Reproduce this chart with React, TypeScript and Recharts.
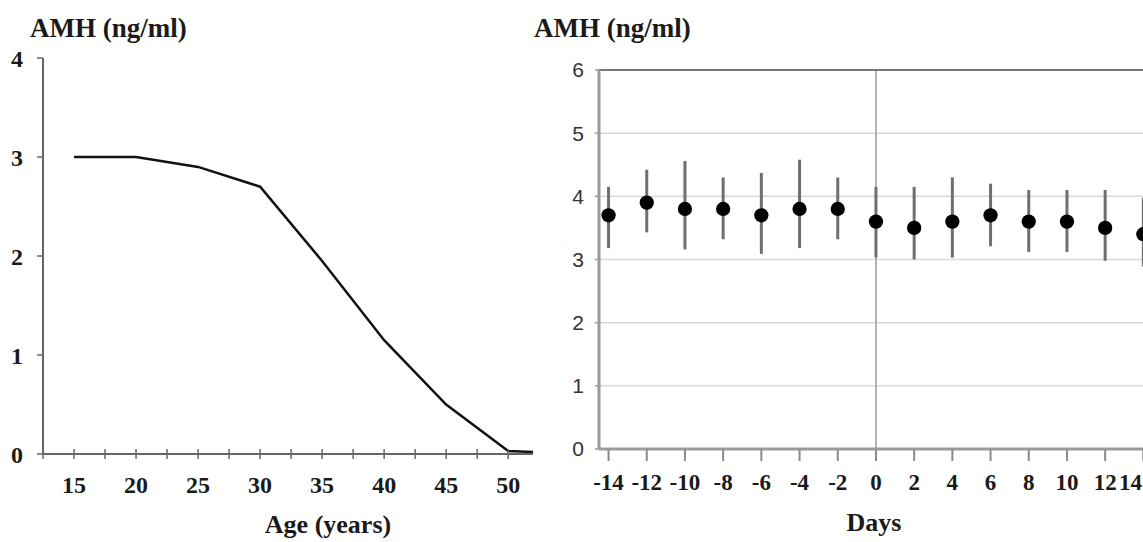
import React from 'react';
import {
  ComposedChart,
  LineChart,
  Line,
  Scatter,
  ErrorBar,
  XAxis,
  YAxis,
  ZAxis,
  CartesianGrid,
  ReferenceLine,
} from 'recharts';

// Left panel: AMH decline with age
const ages = [15, 20, 25, 30, 35, 40, 45, 50, 52];
const ageAmh = [3.0, 3.0, 2.9, 2.7, 1.95, 1.15, 0.5, 0.03, 0.02];
const ageTicks = [12.5, 15, 17.5, 20, 22.5, 25, 27.5, 30, 32.5, 35, 37.5, 40, 42.5, 45, 47.5, 50];
const ageYTicks = [0, 1, 2, 3, 4];

// Right panel: AMH across the cycle (mean with range)
const days = [-14, -12, -10, -8, -6, -4, -2, 0, 2, 4, 6, 8, 10, 12, 14];
const dayMean = [3.7, 3.9, 3.8, 3.8, 3.7, 3.8, 3.8, 3.6, 3.5, 3.6, 3.7, 3.6, 3.6, 3.5, 3.4];
const dayUpper = [4.15, 4.42, 4.56, 4.3, 4.37, 4.58, 4.3, 4.15, 4.15, 4.3, 4.2, 4.1, 4.1, 4.1, 3.98];
const dayLower = [3.18, 3.43, 3.16, 3.32, 3.09, 3.18, 3.32, 3.03, 3.0, 3.03, 3.21, 3.12, 3.12, 2.98, 2.89];
const dayYTicks = [0, 1, 2, 3, 4, 5, 6];

const ageData = ages.map((age, i) => ({ age, amh: ageAmh[i] }));
const dayData = days.map((day, i) => ({
  day,
  mean: dayMean[i],
  err: [dayMean[i] - dayLower[i], dayUpper[i] - dayMean[i]],
}));

const SERIF = '"Liberation Serif", "DejaVu Serif", serif';
const SANS = '"Liberation Sans", Arial, sans-serif';

// right chart starts at x=540 on the page, page is cut at 1143
const RIGHT_LEFT = 540;
const PAGE_W = 1143;

// ticks that cross the axis line, labels only every 5 years
const AgeTick = (props: any) => {
  const { x, y, payload } = props;
  const v = payload.value;
  return (
    <g>
      <line x1={x} x2={x} y1={y - 5} y2={y + 5} stroke="#666" strokeWidth={1.5} />
      {v % 5 === 0 && (
        <text x={x} y={y + 39} textAnchor="middle" fontFamily={SERIF} fontWeight="bold" fontSize={24} fill="#1a1a1a">
          {v}
        </text>
      )}
    </g>
  );
};

// day ticks; keep the last label inside the visible page
const DayTick = (props: any) => {
  const { x, y, payload } = props;
  const maxX = PAGE_W - RIGHT_LEFT - 1;
  const tooFar = x + 13 > maxX;
  return (
    <text
      x={tooFar ? maxX : x}
      y={y + 16}
      textAnchor={tooFar ? 'end' : 'middle'}
      fontFamily={SERIF}
      fontWeight="bold"
      fontSize={23}
      fill="#1a1a1a"
    >
      {payload.value}
    </text>
  );
};

export default function App() {
  return (
    <div style={{ position: 'absolute', left: 0, top: 0, width: PAGE_W, height: 542, overflow: 'hidden', background: '#fff' }}>
      <div style={{ position: 'absolute', left: 0, top: 0 }}>
        <LineChart width={545} height={542} data={ageData} margin={{ top: 58, right: 12, bottom: 0, left: 0 }}>
          <XAxis
            dataKey="age"
            type="number"
            domain={[12.5, 52]}
            ticks={ageTicks}
            interval={0}
            height={88}
            tickSize={0}
            tickMargin={0}
            tickLine={false}
            axisLine={{ stroke: '#666', strokeWidth: 2 }}
            tick={<AgeTick />}
          />
          <YAxis
            type="number"
            domain={[0, 4]}
            ticks={ageYTicks}
            width={43}
            tickSize={6}
            tickMargin={14}
            axisLine={{ stroke: '#666', strokeWidth: 2 }}
            tickLine={{ stroke: '#666', strokeWidth: 1.5 }}
            tick={{ fontFamily: SERIF, fontWeight: 'bold', fontSize: 24, fill: '#1a1a1a' }}
          />
          <Line type="linear" dataKey="amh" stroke="#111" strokeWidth={2.5} dot={false} isAnimationActive={false} />
        </LineChart>
      </div>

      <div style={{ position: 'absolute', left: RIGHT_LEFT, top: 0 }}>
        <ComposedChart width={632} height={542} data={dayData} margin={{ top: 70, right: 0, bottom: 0, left: 0 }}>
          <CartesianGrid vertical={false} stroke="#d9d9d9" strokeWidth={1.5} />
          <XAxis
            dataKey="day"
            type="number"
            domain={[-14.5, 15.5]}
            ticks={days}
            interval={0}
            height={93}
            tickSize={12}
            tickMargin={13}
            axisLine={{ stroke: '#9a9a9a', strokeWidth: 3 }}
            tickLine={{ stroke: '#8a8a8a', strokeWidth: 2 }}
            tick={<DayTick />}
          />
          <YAxis
            type="number"
            domain={[0, 6]}
            ticks={dayYTicks}
            width={59}
            tickSize={4}
            tickMargin={11}
            axisLine={{ stroke: '#9a9a9a', strokeWidth: 3 }}
            tickLine={{ stroke: '#9a9a9a', strokeWidth: 1.5 }}
            tick={{ fontFamily: SANS, fontSize: 21, fill: '#333' }}
          />
          <ZAxis range={[160, 160]} />
          <ReferenceLine x={0} stroke="#999" strokeWidth={1.5} />
          <ReferenceLine y={6} stroke="#777" strokeWidth={2} />
          <Scatter dataKey="mean" fill="#000" isAnimationActive={false}>
            <ErrorBar dataKey="err" direction="y" width={0} stroke="#6f6f6f" strokeWidth={3} isAnimationActive={false} />
          </Scatter>
        </ComposedChart>
      </div>

      <svg width={PAGE_W} height={542} style={{ position: 'absolute', left: 0, top: 0, pointerEvents: 'none' }}>
        <text x={30} y={37} fontFamily={SERIF} fontWeight="bold" fontSize={27} fill="#1a1a1a">
          AMH (ng/ml)
        </text>
        <text x={534} y={37} fontFamily={SERIF} fontWeight="bold" fontSize={27} fill="#1a1a1a">
          AMH (ng/ml)
        </text>
        <text x={328} y={533} textAnchor="middle" fontFamily={SERIF} fontWeight="bold" fontSize={26} fill="#1a1a1a">
          Age (years)
        </text>
        <text x={874} y={531} textAnchor="middle" fontFamily={SERIF} fontWeight="bold" fontSize={26} fill="#1a1a1a">
          Days
        </text>
      </svg>
    </div>
  );
}
